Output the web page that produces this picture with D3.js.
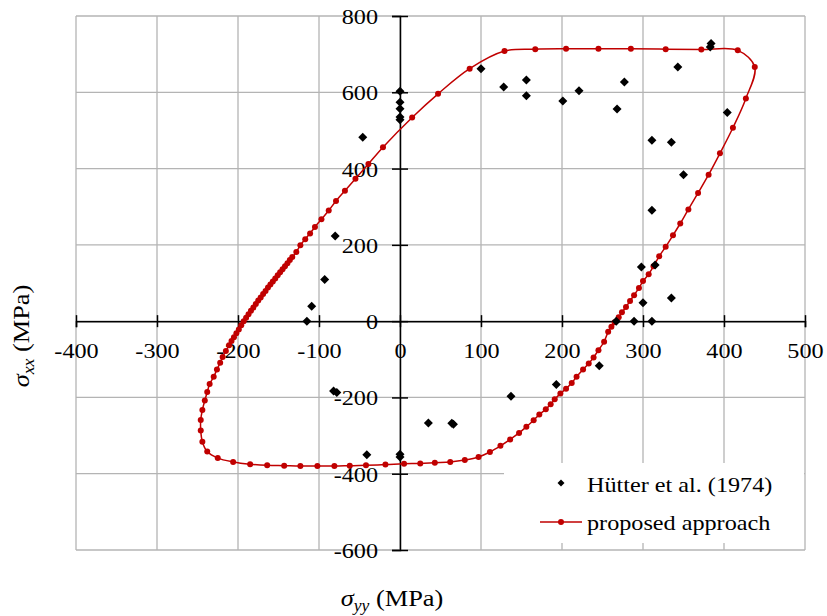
<!DOCTYPE html>
<html>
<head>
<meta charset="utf-8">
<script src="https://cdn.jsdelivr.net/npm/d3@7"></script>
<style>
  body { margin: 0; background: #fff; }
  text { font-family: "Liberation Serif", "Times New Roman", serif; fill: #000; }
</style>
</head>
<body>
<script>

// Hütter et al. (1974) measured points  [sigma_yy, sigma_xx]
var hutterYY = [0, 0, 0, 0, 0, -46, -80, -93, -109, -115,
    100, 128, 156, 156, 201, 221, 268, 277, 343, 384, 383, 404,
    311, 335, 350, 311, 298, 315, 300, 335, 267, 289, 311,
    -82, -78, -41, 0, 0, 35, 64, 66, 137, 193, 246];
var hutterXX = [603, 574, 557, 535, 528, 482, 223, 109, 39, 0,
    662, 614, 632, 591, 577, 604, 556, 627, 666, 728, 719, 547,
    474, 469, 384, 291, 142, 147, 48, 61, 0, 0, 0,
    -183, -187, -350, -349, -356, -267, -268, -270, -197, -166, -117];

// proposed approach (closed loop)
var modelYY = [129, 167, 205, 245, 285, 328, 372, 417, 438, 427, 411, 395, 381, 368, 356, 346,
    337, 328, 320, 313, 307, 300, 295, 289, 284, 279, 274, 270, 265, 261, 257,
    252, 245, 239, 233, 226, 218, 212, 205, 198, 191, 186, 180, 172, 165, 156, 147,
    136, 124, 111, 97, 80, 62, 43, 25, 5, -18, -42, -62, -81, -102, -123, -143, -164,
    -185, -206, -225, -238, -244, -246, -246, -244, -241, -238, -235, -230, -226, -222,
    -219, -215, -211, -208, -205, -202, -199, -196, -193, -190, -187, -184, -181, -178,
    -175, -172, -169, -166, -163, -160, -157, -154, -151, -148, -145, -142, -139, -136,
    -133, -128, -123, -117, -111, -105, -97, -88, -79, -68, -55, -39, -21, 15, 47, 86];
var modelXX = [708, 713, 714, 714, 714, 713, 712, 710, 666, 584, 507, 440, 384, 336, 293, 256,
    225, 195, 170, 144, 123, 105, 87, 68, 53, 37, 23, 10, -3, -15, -28,
    -54, -76, -95, -111, -127, -146, -162, -177, -190, -205, -218, -231, -245, -260, -277, -293,
    -310, -327, -343, -356, -364, -369, -371, -373, -374, -376, -378, -379, -380, -380, -380, -379, -378,
    -375, -369, -359, -342, -316, -287, -259, -233, -208, -186, -165, -146, -127, -109,
    -94, -78, -63, -52, -42, -32, -22, -11, 0, 9, 18, 27, 36, 45,
    54, 62, 71, 79, 88, 96, 104, 112, 120, 128, 136, 144, 152, 160,
    168, 181, 199, 215, 230, 247, 267, 290, 315, 342, 373, 412, 456, 534, 596, 662];

var xTicks = [-400, -300, -200, -100, 0, 100, 200, 300, 400, 500];
var yTicks = [-600, -400, -200, 0, 200, 400, 600, 800];
var seriesNames = ["Hütter et al. (1974)", "proposed approach"];

var W = 827, H = 616;
var red = "#c00000";
var gridColor = "#b4b4b4";

var x = d3.scaleLinear().domain([-400, 500]).range([76, 805]);
var y = d3.scaleLinear().domain([-600, 800]).range([550, 16]);

// plain hyphen for negatives, like the original
var fmt = function(d) { return String(d); };

var svg = d3.select("body").append("svg")
    .attr("width", W)
    .attr("height", H);

//grid
svg.append("g").selectAll("line")
    .data(xTicks).enter().append("line")
    .attr("x1", function(d) { return x(d); })
    .attr("x2", function(d) { return x(d); })
    .attr("y1", y(800)).attr("y2", y(-600))
    .style("stroke", gridColor).style("stroke-width", 1.3);

svg.append("g").selectAll("line")
    .data(yTicks).enter().append("line")
    .attr("y1", function(d) { return y(d); })
    .attr("y2", function(d) { return y(d); })
    .attr("x1", x(-400)).attr("x2", x(500))
    .style("stroke", gridColor).style("stroke-width", 1.3);

//legend box (covers the grid)
svg.append("rect")
    .attr("x", 504).attr("y", 463)
    .attr("width", 300).attr("height", 80)
    .style("fill", "#fff");

//axes, crossing at 0
var xAxis = d3.axisBottom(x).tickValues(xTicks).tickFormat(fmt).tickSizeOuter(0).tickSize(6);
var yAxis = d3.axisLeft(y).tickValues(yTicks).tickFormat(fmt).tickSizeOuter(0).tickSize(8);

var gx = svg.append("g")
    .attr("transform", "translate(0," + y(0) + ")")
    .call(xAxis);
gx.selectAll(".tick line").attr("y1", -6).attr("y2", 6).style("stroke", "#000").style("stroke-width", 1.5);
gx.select(".domain").style("stroke", "#000").style("stroke-width", 1.5);
gx.selectAll(".tick text")
    .attr("y", 37).attr("dy", null)
    .attr("transform", "scale(1.1,1)")
    .style("font-size", "22px").style("font-family", "Liberation Serif");

var gy = svg.append("g")
    .attr("transform", "translate(" + x(0) + ",0)")
    .call(yAxis);
gy.selectAll(".tick line").attr("x1", -8).attr("x2", 8).style("stroke", "#000").style("stroke-width", 1.5);
gy.select(".domain").style("stroke", "#000").style("stroke-width", 1.5);
gy.selectAll(".tick text")
    .attr("x", -20).attr("dy", "0.34em")
    .attr("transform", "scale(1.1,1)")
    .style("font-size", "22px").style("font-family", "Liberation Serif");

//proposed approach
var loop = modelYY.map(function(d, i) { return [d, modelXX[i]]; });

var line = d3.line()
    .x(function(d) { return x(d[0]); })
    .y(function(d) { return y(d[1]); })
    .curve(d3.curveCatmullRomClosed.alpha(0.5));

svg.append("path")
    .datum(loop)
    .attr("d", line)
    .style("fill", "none")
    .style("stroke", red)
    .style("stroke-width", 1.5);

svg.selectAll(".dot")
    .data(loop).enter()
    .append("circle")
    .classed("dot", true)
    .attr("cx", function(d) { return x(d[0]); })
    .attr("cy", function(d) { return y(d[1]); })
    .attr("r", 3)
    .style("fill", red);

//Hutter points
var diamond = "M0,-4.5L4.5,0L0,4.5L-4.5,0Z";
svg.selectAll(".hut")
    .data(hutterYY).enter()
    .append("path")
    .classed("hut", true)
    .attr("d", diamond)
    .attr("transform", function(d, i) {
        return "translate(" + x(d) + "," + y(hutterXX[i]) + ")";
    })
    .style("fill", "#000");

//legend
var leg = svg.append("g");
leg.append("path").attr("d", "M0,-3.5L3.5,0L0,3.5L-3.5,0Z")
    .attr("transform", "translate(561,483)").style("fill", "#000");
leg.append("line")
    .attr("x1", 540).attr("x2", 582).attr("y1", 522).attr("y2", 522)
    .style("stroke", red).style("stroke-width", 1.5);
leg.append("circle").attr("cx", 561).attr("cy", 522).attr("r", 3).style("fill", red);

leg.append("text")
    .attr("transform", "translate(587,492) scale(1.1,1)")
    .style("font-size", "22px")
    .text(seriesNames[0]);
leg.append("text")
    .attr("transform", "translate(587,530) scale(1.1,1)")
    .style("font-size", "22px")
    .text(seriesNames[1]);

//axis titles
var tx = svg.append("text")
    .attr("transform", "translate(392,606) scale(1.1,1)")
    .attr("text-anchor", "middle")
    .style("font-size", "24px");
tx.append("tspan").style("font-style", "italic").text("σ");
tx.append("tspan").style("font-style", "italic").style("font-size", "16px").attr("dy", 5).text("yy");
tx.append("tspan").attr("dy", -5).text(" (MPa)");

var ty = svg.append("text")
    .attr("transform", "translate(29,336) rotate(-90) scale(1.1,1)")
    .attr("text-anchor", "middle")
    .style("font-size", "24px");
ty.append("tspan").style("font-style", "italic").text("σ");
ty.append("tspan").style("font-style", "italic").style("font-size", "16px").attr("dy", 5).text("xx");
ty.append("tspan").attr("dy", -5).text(" (MPa)");

</script>
</body>
</html>
